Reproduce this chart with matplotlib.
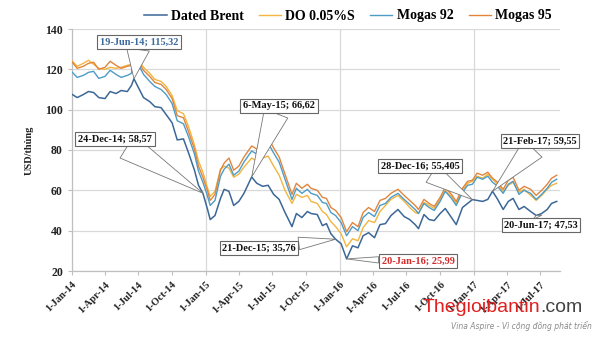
import matplotlib
matplotlib.use("Agg")
import matplotlib.pyplot as plt
import matplotlib.dates as mdates
from matplotlib.ticker import FuncFormatter, MultipleLocator
import pandas as pd

# ---- data -------------------------------------------------------------
dates = [
    "2014-01-02", "2014-01-15", "2014-02-01", "2014-02-15", "2014-03-01", "2014-03-15",
    "2014-04-01", "2014-04-15", "2014-05-01", "2014-05-15", "2014-06-01", "2014-06-12",
    "2014-06-19", "2014-07-01", "2014-07-15", "2014-08-01", "2014-08-15", "2014-09-01",
    "2014-09-15", "2014-10-01", "2014-10-15", "2014-11-01", "2014-11-15", "2014-12-01",
    "2014-12-12", "2014-12-24",
    "2015-01-05", "2015-01-13", "2015-01-26", "2015-02-10", "2015-02-20", "2015-03-05",
    "2015-03-18", "2015-04-01", "2015-04-15", "2015-05-06", "2015-05-20", "2015-06-05",
    "2015-06-20", "2015-07-05", "2015-07-20", "2015-08-05", "2015-08-24", "2015-09-05",
    "2015-09-20", "2015-10-05", "2015-10-15", "2015-11-01", "2015-11-15", "2015-11-26",
    "2015-12-08", "2015-12-21",
    "2016-01-05", "2016-01-20", "2016-02-05", "2016-02-20", "2016-03-05", "2016-03-20",
    "2016-04-05", "2016-04-20", "2016-05-05", "2016-05-20", "2016-06-08", "2016-06-25",
    "2016-07-10", "2016-07-25", "2016-08-03", "2016-08-18", "2016-09-01", "2016-09-15",
    "2016-10-01", "2016-10-15", "2016-11-01", "2016-11-14", "2016-12-01", "2016-12-15",
    "2016-12-28",
    "2017-01-10", "2017-01-25", "2017-02-08", "2017-02-21", "2017-03-07", "2017-03-22",
    "2017-04-05", "2017-04-18", "2017-05-04", "2017-05-18", "2017-06-05", "2017-06-20",
    "2017-07-05", "2017-07-20", "2017-08-01", "2017-08-15",
]

dated_brent = [
    107.5, 106.0, 107.5, 109.0, 108.5, 106.0, 105.5, 109.0, 108.0, 109.5, 109.0, 112.0,
    115.32, 111.0, 106.0, 104.0, 101.5, 101.0, 97.5, 93.5, 85.0, 85.5, 78.5, 70.0,
    62.5, 58.57,
    51.0, 45.5, 47.5, 56.0, 60.5, 59.5, 52.5, 54.5, 58.5, 66.62, 63.5, 62.0,
    62.5, 58.0, 55.5, 49.0, 42.0, 48.5, 46.5, 49.5, 48.5, 48.0, 42.5, 43.5,
    38.5, 35.76,
    33.5, 25.99, 32.5, 31.5, 37.5, 39.0, 36.5, 43.0, 43.5, 47.5, 50.5, 47.0,
    45.5, 43.0, 41.0, 48.0, 45.5, 45.0, 48.5, 51.0, 46.5, 43.0, 51.5, 53.5,
    55.405,
    55.0, 54.5, 55.5, 59.55, 55.5, 50.5, 54.5, 56.0, 50.5, 52.0, 49.5, 47.53,
    48.5, 50.5, 53.5, 54.5,
]

do_005s = [
    124.0, 121.5, 123.0, 124.5, 122.5, 120.5, 120.0, 121.0, 120.5, 121.0, 122.0, 122.5,
    128.0, 124.5, 121.0, 118.0, 115.0, 114.0, 111.5, 107.0, 99.5, 98.0, 91.5, 82.5,
    74.5, 69.0,
    61.5, 57.0, 59.5, 70.5, 72.0, 71.0, 66.5, 68.0, 71.5, 76.0, 74.5, 76.0,
    77.0, 72.0, 67.5, 60.0, 53.5, 58.0, 56.5, 57.5, 54.5, 53.5, 49.5, 48.0,
    44.5, 42.0,
    38.5, 32.0, 36.0, 35.0, 41.5, 45.0, 44.0, 49.5, 52.5, 55.5, 57.5, 54.5,
    51.5, 49.0, 48.5, 54.0, 52.5, 51.0, 55.5, 60.0, 57.0, 53.5, 60.0, 63.5,
    64.5,
    67.0, 66.0, 68.0, 65.5, 63.0, 59.5, 62.5, 64.0, 59.0, 60.5, 57.5, 55.0,
    57.5, 60.5, 62.5, 63.5,
]

mogas_92 = [
    118.5, 116.0, 117.0, 118.5, 119.0, 115.5, 116.5, 119.5, 117.5, 116.0, 117.0, 118.0,
    127.0, 122.5, 117.5, 114.0, 111.5, 110.0, 107.5, 103.0, 94.5, 93.0, 86.5, 78.0,
    69.5, 64.0,
    57.5, 52.5, 55.0, 67.0, 70.5, 73.0, 67.5, 69.5, 74.0, 79.5, 78.0, 81.5,
    83.5, 78.5, 74.0, 65.5, 55.5, 61.0, 58.5, 60.5, 58.5, 57.5, 54.0, 53.5,
    49.0, 47.5,
    44.0, 37.5, 42.0, 40.0, 46.5, 49.0, 47.0, 52.5, 53.5, 56.5, 58.5, 55.5,
    53.0, 50.5, 48.5, 53.5, 51.5, 50.0, 54.5, 59.5, 56.0, 52.5, 59.0, 62.5,
    63.0,
    66.5, 65.5, 67.0, 64.0, 62.0, 58.5, 63.0, 64.5, 58.0, 60.0, 58.5, 55.5,
    58.0, 61.0, 64.0, 65.5,
]

mogas_95 = [
    123.5, 120.5, 121.5, 123.0, 123.5, 120.0, 121.0, 124.0, 122.0, 120.5, 121.5, 122.0,
    129.0, 124.0, 119.5, 116.5, 113.5, 112.5, 110.0, 105.5, 97.0, 96.0, 89.0, 80.5,
    72.0, 66.5,
    60.0, 55.0, 58.0, 70.0, 73.5, 76.0, 70.0, 72.0, 76.5, 82.0, 80.5, 84.0,
    86.0, 81.0, 76.5, 68.0, 58.0, 63.5, 61.0, 63.0, 61.0, 60.0, 56.5, 56.0,
    51.5, 50.0,
    46.5, 39.5, 44.0, 42.0, 49.0, 51.5, 49.5, 55.0, 56.0, 58.5, 60.5, 57.5,
    55.0, 52.5, 50.5, 55.5, 53.5, 52.0, 56.5, 61.5, 58.0, 54.5, 61.0, 64.5,
    65.0,
    68.5, 67.5, 69.0, 66.0, 64.0, 60.5, 65.0, 66.5, 60.0, 62.0, 60.5, 57.5,
    60.0, 63.0, 66.0, 67.5,
]

# Labelled points on the Dated Brent line: (date, value, text colour)
callouts = [
    ("2014-06-19", 115.32, "#3b6a9c"),
    ("2014-12-24", 58.57, "#111111"),
    ("2015-05-06", 66.62, "#111111"),
    ("2015-12-21", 35.76, "#111111"),
    ("2016-01-20", 25.99, "#d42a2a"),
    ("2016-12-28", 55.405, "#111111"),
    ("2017-02-21", 59.55, "#111111"),
    ("2017-06-20", 47.53, "#111111"),
]
# label-box centres in figure pixels (from bottom-left) and wedge widths
callout_pos = [(139, 295), (115, 198), (279, 231), (259, 89),
               (418, 76), (420, 171), (540, 196), (541, 112)]
callout_wedge = [2.2, 2.6, 2.4, 1.2, 0.6, 2.0, 2.4, 1.0]

# ---- figure -----------------------------------------------------------
W, H = 600, 337
fig = plt.figure(figsize=(W / 100, H / 100), dpi=100, facecolor="white")
ax = fig.add_axes([72 / W, 1 - 271 / H, (560 - 72) / W, (271 - 29) / H])
ax.set_facecolor("white")

x = pd.to_datetime(dates)
serif = "Liberation Serif"

ax.plot(x, do_005s, color="#f3b53f", lw=1.0, label="DO 0.05%S", zorder=3)
ax.plot(x, mogas_95, color="#e2853c", lw=1.0, label="Mogas 95", zorder=3)
ax.plot(x, mogas_92, color="#4d9cc6", lw=1.0, label="Mogas 92", zorder=3)
ax.plot(x, dated_brent, color="#3c6797", lw=1.1, label="Dated Brent", zorder=4)

ax.set_ylim(20, 140)
ax.set_xlim(pd.Timestamp("2014-01-01"), pd.Timestamp("2017-08-24"))
ax.yaxis.set_major_locator(MultipleLocator(20))
ax.xaxis.set_major_locator(mdates.MonthLocator(bymonth=[1, 4, 7, 10], bymonthday=1))
ax.xaxis.set_major_formatter(
    FuncFormatter(lambda v, p: (lambda d: f"{d.day}-{d.strftime('%b-%y')}")(mdates.num2date(v))))

# grid: horizontal at every 20, vertical only at year starts
ax.grid(axis="y", color="#d9d9d9", lw=0.9, zorder=0)
for yr in ["2015-01-01", "2016-01-01", "2017-01-01"]:
    ax.axvline(pd.Timestamp(yr), color="#d9d9d9", lw=0.9, zorder=0)

for s in ["top", "right"]:
    ax.spines[s].set_visible(False)
for s in ["left", "bottom"]:
    ax.spines[s].set_color("#bfbfbf")
    ax.spines[s].set_linewidth(0.9)

ax.tick_params(axis="both", colors="#bfbfbf", length=3, width=0.8)
for lab in ax.get_yticklabels():
    lab.set_fontfamily(serif)
    lab.set_fontweight("bold")
    lab.set_fontsize(8.5)
    lab.set_color("#222222")
for lab in ax.get_xticklabels():
    lab.set_fontfamily(serif)
    lab.set_fontweight("bold")
    lab.set_fontsize(7.5)
    lab.set_color("#222222")
    lab.set_rotation(45)
    lab.set_ha("right")
    lab.set_rotation_mode("anchor")

ax.set_ylabel("USD/thùng", fontfamily=serif, fontweight="bold", fontsize=7.5,
              color="#222222", labelpad=8)

# legend across the top
handles, labels = ax.get_legend_handles_labels()
order = ["Dated Brent", "DO 0.05%S", "Mogas 92", "Mogas 95"]
hmap = dict(zip(labels, handles))
fig.legend([hmap[k] for k in order], order, loc="center",
           bbox_to_anchor=(348 / W, 1 - 16 / H), ncol=4, frameon=False,
           prop={"family": serif, "weight": "bold", "size": 10},
           handlelength=1.6, handletextpad=0.3, columnspacing=1.1)

# callouts with wedge pointers
for (d, v, col), (px, py), tw in zip(callouts, callout_pos, callout_wedge):
    dt = pd.Timestamp(d)
    txt = f"{dt.day}-{dt.strftime('%b-%y')}; {str(v).replace('.', ',')}"
    ax.annotate(txt, xy=(dt, v), xytext=(px, py), textcoords="figure pixels",
                ha="center", va="center", fontfamily=serif, fontweight="bold",
                fontsize=7.5, color=col, zorder=6, annotation_clip=False,
                bbox=dict(boxstyle="square,pad=0.25", fc="white", ec="#666666", lw=0.8),
                arrowprops=dict(arrowstyle=f"wedge,tail_width={tw},shrink_factor=0.5",
                                fc="white", ec="#777777", lw=0.6,
                                shrinkA=0, shrinkB=0))

# site mark
t1 = fig.text(423 / W, 1 - 307 / H, "Thegioibantin", color="#e0201f",
              fontfamily="Liberation Sans", fontsize=14, va="center", ha="left")
fig.canvas.draw()
bb = t1.get_window_extent(fig.canvas.get_renderer())
fig.text(bb.x1 / W, 1 - 307 / H, ".com", color="#444444",
         fontfamily="Liberation Sans", fontsize=14, va="center", ha="left")
fig.text(592 / W, 1 - 326 / H, "Vina Aspire - Vì cộng đồng phát triển",
         color="#8a8a8a", fontfamily="DejaVu Sans", fontstyle="italic",
         fontsize=5.5, ha="right", va="center")

fig.savefig("out.png", dpi=100, facecolor="white")
